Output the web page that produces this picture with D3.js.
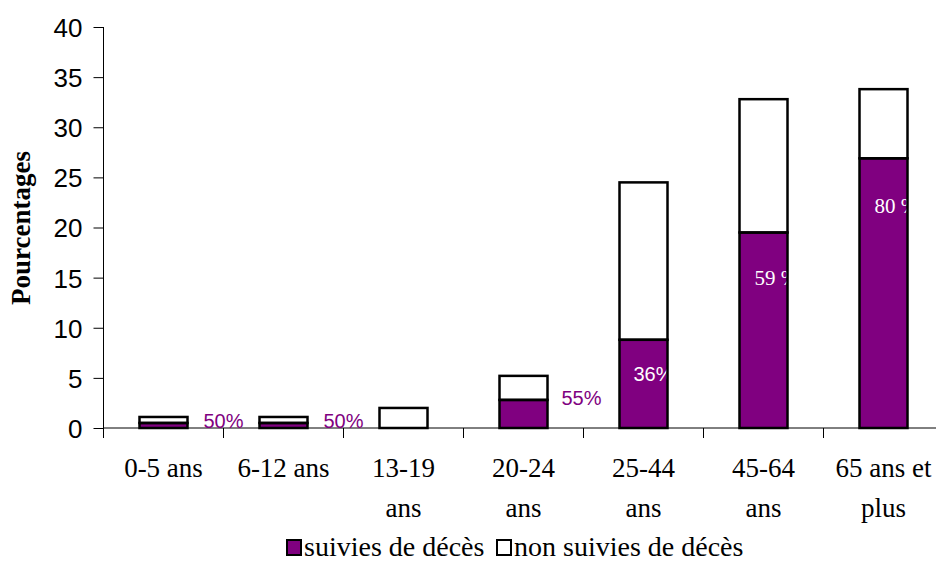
<!DOCTYPE html>
<html>
<head>
<meta charset="utf-8">
<script src="https://cdn.jsdelivr.net/npm/d3@7"></script>
<style>
  body { margin: 0; background: #fff; }
  svg { display: block; }
</style>
</head>
<body>
<div id="chart"></div>
<script>
// data
var categories = [['0-5 ans'], ['6-12 ans'], ['13-19', 'ans'], ['20-24', 'ans'], ['25-44', 'ans'], ['45-64', 'ans'], ['65 ans et', 'plus']]
var suivies = [0.5, 0.5, 0, 2.8, 8.8, 19.5, 26.9]
var nonSuivies = [0.6, 0.6, 2.0, 2.4, 15.7, 13.3, 6.9]
var pctLabels = ['50%', '50%', '', '55%', '36%', '59 %', '80 %']
var yTicks = [0, 5, 10, 15, 20, 25, 30, 35, 40]
var legendLabels = ['suivies de décès', 'non suivies de décès']

var width = 936
var height = 587
var purple = '#800080'
var x0 = 103.5
var band = 120
var SANS = "'Liberation Sans', Arial, sans-serif"
var SERIF = "'Liberation Serif', 'Times New Roman', serif"

var svg = d3.select('#chart').append('svg')
  .attr('width', width)
  .attr('height', height)

var x = d3.scaleBand()
  .domain(d3.range(categories.length))
  .range([x0, x0 + band * categories.length])
  .paddingInner(0.6)
  .paddingOuter(0.3)

var y = d3.scaleLinear().domain([0, 40]).range([428, 27])

//y axis
var yAxis = svg.append('g')
  .attr('transform', 'translate(' + x0 + ',0)')
  .call(d3.axisLeft(y).tickValues(yTicks).tickSize(10).tickPadding(11))
yAxis.select('.domain').attr('d', 'M0,' + y(40) + 'V' + y(0)).attr('stroke', '#000')
yAxis.selectAll('.tick line').attr('stroke', '#000')
yAxis.selectAll('text')
  .style('font-family', SANS)
  .style('font-size', '26px')
  .attr('fill', '#000')
  .attr('dy', '0.36em')

svg.append('text')
  .attr('transform', 'translate(30,228)rotate(-90)')
  .attr('text-anchor', 'middle')
  .style('font-family', SERIF)
  .style('font-weight', 'bold')
  .style('font-size', '27px')
  .text('Pourcentages')

//x axis line + ticks
var xg = svg.append('g')
xg.append('line')
  .attr('x1', x0).attr('x2', width)
  .attr('y1', y(0)).attr('y2', y(0))
  .attr('stroke', '#000')
xg.selectAll('.xt')
  .data(d3.range(categories.length + 1))
  .enter().append('line')
  .attr('x1', function(d) { return x0 + d * band })
  .attr('x2', function(d) { return x0 + d * band })
  .attr('y1', y(0)).attr('y2', y(0) + 10)
  .attr('stroke', '#000')

xg.selectAll('.cat')
  .data(categories)
  .enter().append('text')
  .attr('text-anchor', 'middle')
  .style('font-family', SERIF)
  .style('font-size', '27px')
  .attr('x', function(d, i) { return x(i) + x.bandwidth() / 2 })
  .attr('y', 477)
  .each(function(d) {
    var t = d3.select(this)
    d.forEach(function(line, j) {
      t.append('tspan')
        .attr('x', t.attr('x'))
        .attr('dy', j === 0 ? 0 : 40)
        .text(line)
    })
  })

//bars
var bars = svg.append('g')
bars.selectAll('.s')
  .data(suivies)
  .enter().append('rect')
  .attr('x', function(d, i) { return x(i) })
  .attr('width', x.bandwidth())
  .attr('y', function(d) { return y(d) })
  .attr('height', function(d) { return y(0) - y(d) })
  .attr('fill', purple)

bars.selectAll('.n')
  .data(nonSuivies)
  .enter().append('rect')
  .attr('x', function(d, i) { return x(i) })
  .attr('width', x.bandwidth())
  .attr('y', function(d, i) { return y(d + suivies[i]) })
  .attr('height', function(d) { return y(0) - y(d) })
  .attr('fill', '#fff')

//percentage labels
var labelPos = [
  { dx: 64, v: 0, dy: 0, c: purple, f: 'sans' },
  { dx: 64, v: 0, dy: 0, c: purple, f: 'sans' },
  { dx: 0, v: 0, dy: 0, c: purple, f: 'sans' },
  { dx: 62, v: 2.3, dy: 0, c: purple, f: 'sans' },
  { dx: 14, v: 4.7, dy: 0, c: '#fff', f: 'sans' },
  { dx: 15, v: 14.3, dy: 0, c: '#fff', f: 'serif' },
  { dx: 15, v: 21.4, dy: 0, c: '#fff', f: 'serif' }
]
svg.append('g').selectAll('text')
  .data(pctLabels)
  .enter().append('text')
  .attr('x', function(d, i) { return x(i) + labelPos[i].dx })
  .attr('y', function(d, i) { return y(labelPos[i].v) + labelPos[i].dy })
  .attr('fill', function(d, i) { return labelPos[i].c })
  .style('font-family', function(d, i) { return labelPos[i].f === 'sans' ? SANS : SERIF })
  .style('font-size', function(d, i) { return labelPos[i].f === 'sans' ? '20px' : '21px' })
  .text(function(d) { return d })

//outlines on top
var outl = svg.append('g')
  .attr('fill', 'none')
  .attr('stroke', '#000')
  .attr('stroke-width', 2.5)
outl.selectAll('.o1')
  .data(suivies)
  .enter().append('rect')
  .attr('x', function(d, i) { return x(i) })
  .attr('width', x.bandwidth())
  .attr('y', function(d) { return y(d) })
  .attr('height', function(d) { return y(0) - y(d) })
outl.selectAll('.o2')
  .data(nonSuivies)
  .enter().append('rect')
  .attr('x', function(d, i) { return x(i) })
  .attr('width', x.bandwidth())
  .attr('y', function(d, i) { return y(d + suivies[i]) })
  .attr('height', function(d) { return y(0) - y(d) })

//legend
var legend = svg.append('g')
var legendX = [287, 497]
legendLabels.forEach(function(l, i) {
  legend.append('rect')
    .attr('x', legendX[i]).attr('y', 540)
    .attr('width', 14).attr('height', 15)
    .attr('fill', i === 0 ? purple : '#fff')
    .attr('stroke', '#000')
    .attr('stroke-width', 2)
  legend.append('text')
    .attr('x', legendX[i] + 17).attr('y', 556)
    .style('font-family', SERIF)
    .style('font-size', '28px')
    .text(l)
})
</script>
</body>
</html>
